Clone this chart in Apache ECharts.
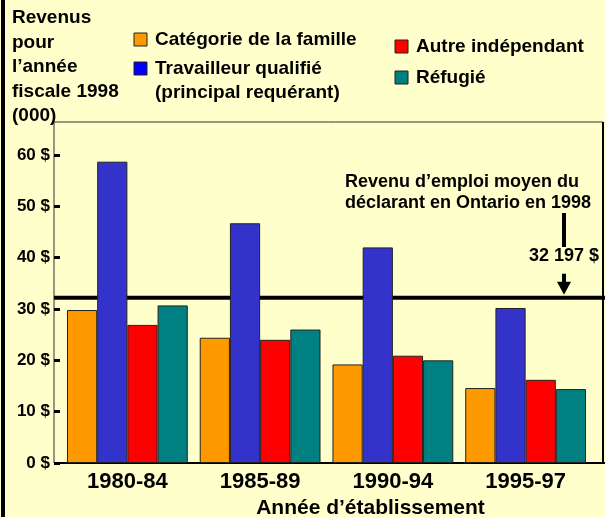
<!DOCTYPE html>
<html>
<head>
<meta charset="utf-8">
<script src="https://cdn.jsdelivr.net/npm/echarts@6/dist/echarts.min.js"></script>
<style>
    html, body { margin: 0; padding: 0; background: #ffffcc; }
    #chart { width: 605px; height: 517px; }
</style>
</head>
<body>
<div id="chart"></div>
<script>
    // valeurs (milliers de $)
    const categories = ['1980-84', '1985-89', '1990-94', '1995-97'];
    const famille = [29.8, 24.4, 19.2, 14.6];
    const qualifie = [58.7, 46.7, 42.0, 30.2];
    const independant = [26.9, 24.0, 20.9, 16.2];
    const refugie = [30.7, 26.0, 20.0, 14.4];
    const meanIncome = 32.197;
    const meanLabel = '32 197 $';

    const seriesNames = ['Catégorie de la famille', 'Travailleur qualifié', 'Autre indépendant', 'Réfugié'];
    const barColors = ['#ff9900', '#3333cc', '#ff0000', '#008080'];
    const legendColors = ['#ff9900', '#0000ff', '#ff0000', '#008080'];

    const font = '"Liberation Sans", Arial, sans-serif';
    const values = [famille, qualifie, independant, refugie];

    let myChart = echarts.init(document.getElementById('chart'));

    let option = {
        backgroundColor: '#ffffcc',
        animation: false,
        grid: {
            left: 61,
            right: 13,
            top: 155,
            bottom: 54,
            containLabel: false,
            outerBoundsMode: 'none'
        },
        xAxis: {
            type: 'category',
            data: categories,
            axisLine: { show: false },
            axisTick: { show: false },
            axisLabel: {
                margin: 8,
                color: '#000',
                fontFamily: font,
                fontWeight: 'bold',
                fontSize: 22
            },
            name: 'Année d’établissement',
            nameLocation: 'middle',
            nameGap: 35,
            nameTextStyle: {
                color: '#000',
                fontFamily: font,
                fontWeight: 'bold',
                fontSize: 21,
                padding: [0, 0, 0, 88]
            }
        },
        yAxis: {
            type: 'value',
            min: 0,
            max: 60,
            interval: 10,
            offset: 7,
            axisLine: { show: false },
            axisTick: {
                show: true,
                inside: true,
                length: 6,
                lineStyle: { color: '#000', width: 3 }
            },
            splitLine: { show: false },
            axisLabel: {
                margin: 4,
                color: '#000',
                fontFamily: font,
                fontWeight: 'bold',
                fontSize: 17,
                formatter: '{value} $'
            }
        },
        series: seriesNames.map(function (name, i) {
            return {
                name: name,
                type: 'bar',
                barGap: 0,
                barCategoryGap: '9%',
                data: values[i],
                itemStyle: {
                    color: barColors[i],
                    borderColor: '#222',
                    borderWidth: 1
                }
            };
        })
    };

    myChart.setOption(option);

    // ligne du revenu moyen, placee par l'echelle de l'axe
    let meanY = myChart.convertToPixel({ yAxisIndex: 0 }, meanIncome);

    let textStyle = function (extra) {
        return Object.assign({
            fill: '#000',
            font: 'bold 19px ' + font
        }, extra);
    };

    let legendItem = function (x, y, color, text) {
        return [
            { type: 'rect', shape: { x: x, y: y, width: 13, height: 13 }, style: { fill: color, stroke: '#222', lineWidth: 1 } },
            { type: 'text', x: x + 21, y: y + 7, style: textStyle({ text: text, verticalAlign: 'middle' }) }
        ];
    };

    let graphics = [
        // bordure gauche
        { type: 'rect', shape: { x: 1, y: 0, width: 4, height: 517 }, style: { fill: '#000' } },
        // cadre du graphique
        { type: 'rect', shape: { x: 54, y: 122, width: 549, height: 341 }, style: { fill: 'none', stroke: '#333', lineWidth: 1 } },
        { type: 'line', shape: { x1: 54, y1: 463, x2: 605, y2: 463 }, style: { stroke: '#000', lineWidth: 2 } },
        { type: 'line', shape: { x1: 603, y1: 122, x2: 603, y2: 463 }, style: { stroke: '#000', lineWidth: 2 } },
        { type: 'line', shape: { x1: 54, y1: meanY, x2: 605, y2: meanY }, style: { stroke: '#000', lineWidth: 4 } },
        // titre de l'axe vertical
        {
            type: 'text', x: 12, y: 6,
            style: textStyle({ text: 'Revenus\npour\nl’année\nfiscale 1998\n(000)', lineHeight: 24.5 })
        },
        { type: 'text', x: 155, y: 83, style: textStyle({ text: '(principal requérant)' }) },
        // annotation
        {
            type: 'text', x: 345, y: 172,
            style: textStyle({ text: 'Revenu d’emploi moyen du\ndéclarant en Ontario en 1998', font: 'bold 18px ' + font, lineHeight: 21 })
        },
        {
            type: 'text', x: 599, y: 256,
            style: textStyle({ text: meanLabel, font: 'bold 18px ' + font, align: 'right', verticalAlign: 'middle' })
        },
        { type: 'line', shape: { x1: 564, y1: 213, x2: 564, y2: 247 }, style: { stroke: '#000', lineWidth: 4 } },
        { type: 'line', shape: { x1: 564, y1: meanY - 24, x2: 564, y2: meanY - 15 }, style: { stroke: '#000', lineWidth: 4 } },
        {
            type: 'polygon',
            shape: { points: [[557, meanY - 16], [571, meanY - 16], [564, meanY - 3]] },
            style: { fill: '#000' }
        }
    ];

    graphics = graphics
        .concat(legendItem(134, 33, legendColors[0], seriesNames[0]))
        .concat(legendItem(134, 62, legendColors[1], seriesNames[1]))
        .concat(legendItem(395, 40, legendColors[2], seriesNames[2]))
        .concat(legendItem(395, 71, legendColors[3], seriesNames[3]));

    myChart.setOption({ graphic: graphics });

    window.addEventListener('resize', myChart.resize);
</script>
</body>
</html>
